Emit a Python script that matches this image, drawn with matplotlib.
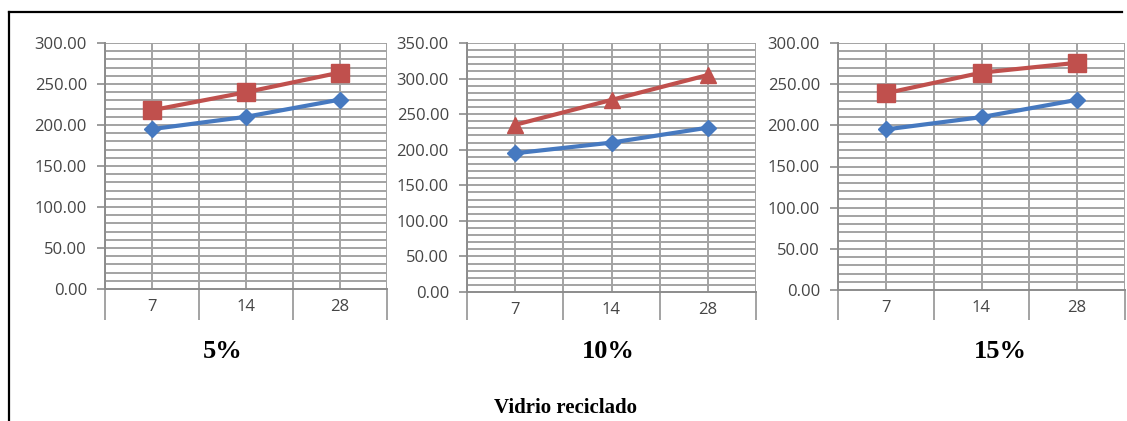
import numpy as np
import matplotlib
matplotlib.use("Agg")
import matplotlib.pyplot as plt
from matplotlib.lines import Line2D

# edades de ensayo (días)
dias = ["7", "14", "28"]

# resistencia del patrón (sin vidrio) y de las mezclas con vidrio reciclado
patron = [195, 210, 231]
vidrio_5 = [218, 240, 264]
vidrio_10 = [235, 270, 305]
vidrio_15 = [239, 264, 276]

porcentajes = ["5%", "10%", "15%"]
ymax = [300, 350, 300]

W, H = 1127, 421
fig = plt.figure(figsize=(W / 100, H / 100), dpi=100)
fig.patch.set_facecolor("white")

AZUL = "#4679c0"
ROJO = "#c0504d"
GRIS = "#a3a3a3"
FUENTE = ["Open Sans", "DejaVu Sans"]

# cajas de cada gráfico en píxeles: izquierda, derecha, arriba, abajo (eje cero)
cajas = [(105, 387, 43, 289), (467, 756, 43, 292), (838, 1125, 43, 290)]
banda = 320  # borde inferior de la banda de categorías
centros_txt = [223, 608, 1000]

series = [(vidrio_5, "s", 13), (vidrio_10, "^", 12), (vidrio_15, "s", 13)]

x = np.arange(len(dias))
for i, (l, r, t, b) in enumerate(cajas):
    ax = fig.add_axes([l / W, 1 - b / H, (r - l) / W, (b - t) / H])
    ax.set_facecolor("white")
    ax.set_xlim(-0.5, len(dias) - 0.5)
    ax.set_ylim(0, ymax[i])

    # rejilla fina cada 10 y divisiones en x
    for yv in np.arange(10, ymax[i] + 1, 10):
        ax.axhline(yv, color=GRIS, lw=1.4, zorder=1)
    for xv in np.arange(-0.5, len(dias), 0.5):
        ax.axvline(xv, color=GRIS, lw=1.4, zorder=1)

    ax.plot(x, patron, color=AZUL, lw=3, marker="D", ms=8, zorder=3)
    vals, mk, ms = series[i]
    ax.plot(x, vals, color=ROJO, lw=3, marker=mk, ms=ms, zorder=3)

    for s in ["top", "right"]:
        ax.spines[s].set_visible(False)
    ax.spines["left"].set_color("#8c8c8c")
    ax.spines["bottom"].set_color("#8c8c8c")
    ax.spines["left"].set_linewidth(1.4)
    ax.spines["bottom"].set_linewidth(1.4)

    ax.set_yticks(np.arange(0, ymax[i] + 1, 50))
    ax.set_yticklabels([f"{v:.2f}" for v in np.arange(0, ymax[i] + 1, 50)],
                       family=FUENTE)
    ax.tick_params(axis="y", length=6, width=1.2, color="#8c8c8c",
                   labelsize=12, labelcolor="#454545", pad=7)

    # divisiones de la banda de categorías y etiquetas centradas
    ax.set_xticks(np.arange(-0.5, len(dias), 1.0))
    ax.set_xticklabels([])
    ax.tick_params(axis="x", which="major", direction="out",
                   length=(banda - b) * 0.72, width=1.4, color=GRIS)
    ax.set_xticks(x, minor=True)
    ax.set_xticklabels(dias, minor=True, family=FUENTE)
    ax.tick_params(axis="x", which="minor", length=0, pad=7,
                   labelsize=12, labelcolor="#454545")

    fig.text(centros_txt[i] / W, 1 - 352 / H, porcentajes[i],
             ha="center", va="center", fontsize=19, fontweight="bold",
             family="Liberation Serif")

fig.text(565 / W, 1 - 408 / H, "Vidrio reciclado", ha="center", va="center",
         fontsize=15, fontweight="bold", family="Liberation Serif")

# marco exterior (superior e izquierdo)
fig.add_artist(Line2D([9 / W, 1122 / W], [1 - 12 / H, 1 - 12 / H],
                      color="black", lw=1.6, transform=fig.transFigure))
fig.add_artist(Line2D([9 / W, 9 / W], [1 - 12 / H, 0],
                      color="black", lw=1.6, transform=fig.transFigure))

fig.savefig("out.png", dpi=100)
